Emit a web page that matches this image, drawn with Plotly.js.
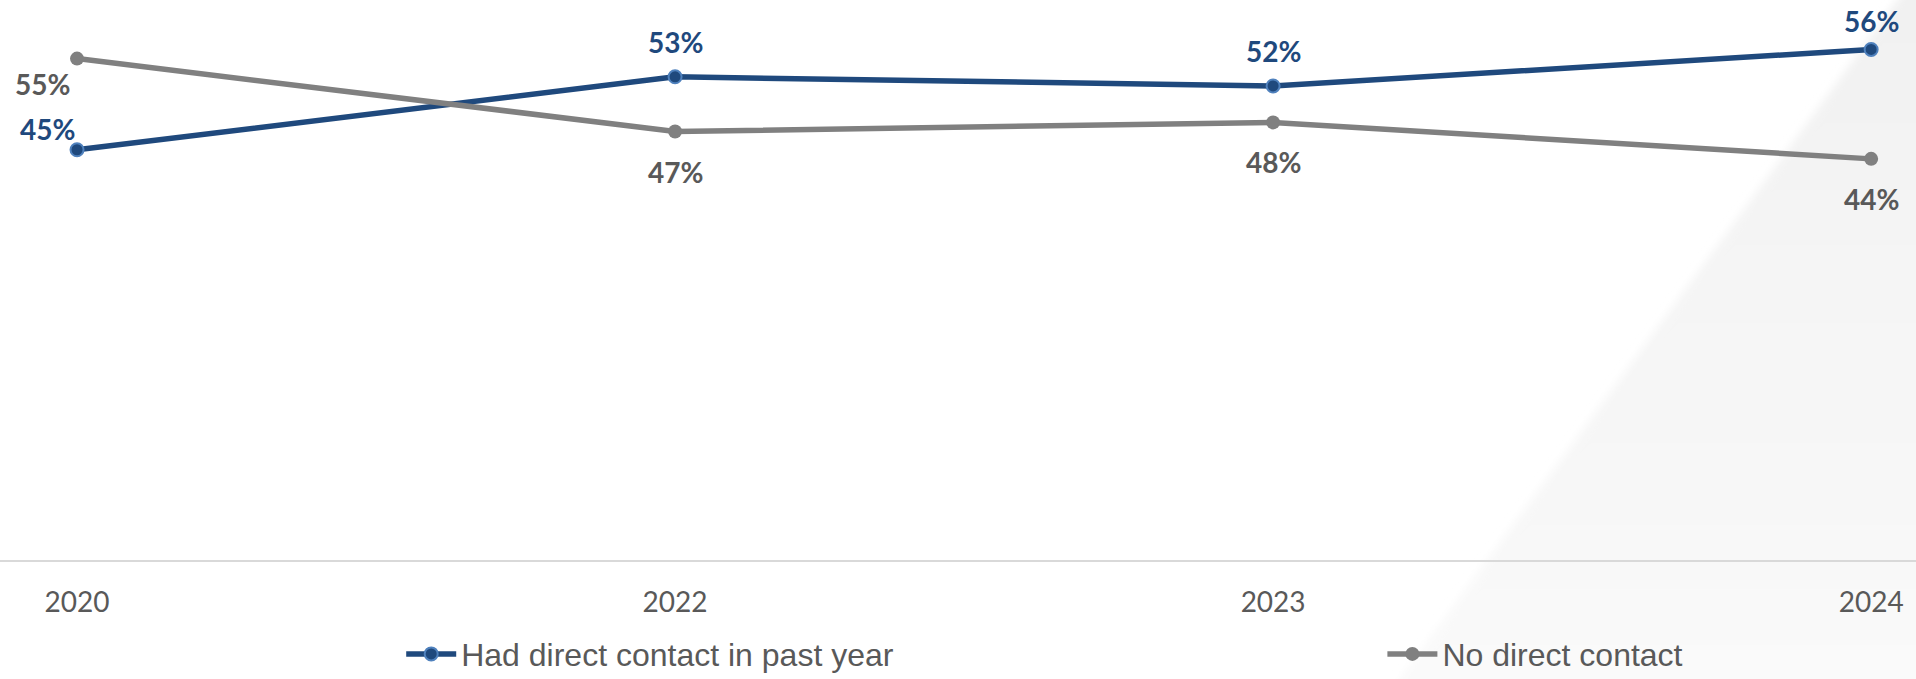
<!DOCTYPE html>
<html>
<head>
<meta charset="utf-8">
<script src="https://cdn.plot.ly/plotly-3.0.1.min.js"></script>
<style>html,body{margin:0;padding:0;background:#fff;}#chart{width:1916px;height:679px;}</style>
</head>
<body>
<div id="chart"></div>
<script>
const years = ["2020", "2022", "2023", "2024"];
const hadContact = [45, 53, 52, 56];
const noContact = [55, 47, 48, 44];
const seriesNames = ["Had direct contact in past year", "No direct contact"];

const blue = "#1F497D";
const blueEdge = "#4F81BD";
const grey = "#808080";
const greyText = "#595959";
const labelFont = "Lato";

const traces = [
  {
    x: years, y: hadContact, name: seriesNames[0], type: "scatter", mode: "lines+markers",
    line: {color: blue, width: 5.5},
    marker: {color: blue, size: 13, line: {color: blueEdge, width: 2}},
    cliponaxis: false, hoverinfo: "skip", legend: "legend"
  },
  {
    x: years, y: noContact, name: seriesNames[1], type: "scatter", mode: "lines+markers",
    line: {color: grey, width: 5.5},
    marker: {color: grey, size: 14},
    cliponaxis: false, hoverinfo: "skip", legend: "legend2"
  }
];

const annotations = [];
for (let i = 0; i < years.length; i++) {
  const first = i === 0;
  annotations.push({
    x: i, y: hadContact[i], xref: "x", yref: "y", text: "<b>" + hadContact[i] + "%</b>",
    showarrow: false, font: {family: labelFont, size: 28, color: blue},
    xshift: first ? -30 : 0, yshift: first ? 21 : (i === 3 ? 28 : 35)
  });
  annotations.push({
    x: i, y: noContact[i], xref: "x", yref: "y", text: "<b>" + noContact[i] + "%</b>",
    showarrow: false, font: {family: labelFont, size: 28, color: greyText},
    xshift: first ? -35 : 0, yshift: first ? -25 : -40
  });
}

const legendCommon = {
  orientation: "h", xanchor: "left", y: -0.172, yanchor: "middle",
  font: {family: "Liberation Sans", size: 32, color: greyText},
  bgcolor: "rgba(0,0,0,0)", borderwidth: 0, itemwidth: 50
};

const shadeSvg =
  '<svg xmlns="http://www.w3.org/2000/svg" width="1916" height="679" viewBox="0 0 1916 679">' +
  '<defs><linearGradient id="g" x1="0" y1="0" x2="0" y2="1">' +
  '<stop offset="0" stop-color="#f1f1f1"/><stop offset="1" stop-color="#fafafa"/></linearGradient>' +
  '<filter id="b" x="-0.1" y="-0.1" width="1.2" height="1.2"><feGaussianBlur stdDeviation="4"/></filter></defs>' +
  '<polygon points="1912,-20 1960,-20 1960,700 1385,700" fill="url(#g)" filter="url(#b)"/></svg>';

const layout = {
  width: 1916, height: 679,
  margin: {l: 0, r: 0, t: 13, b: 119, autoexpand: false},
  paper_bgcolor: "#ffffff", plot_bgcolor: "rgba(0,0,0,0)",
  showlegend: true,
  xaxis: {
    type: "category", range: [-0.1288, 3.075], fixedrange: true,
    showgrid: false, zeroline: false,
    showline: true, linecolor: "#D9D9D9", linewidth: 2,
    ticks: "outside", ticklen: 16, tickcolor: "rgba(0,0,0,0)",
    tickfont: {family: labelFont, size: 28, color: greyText}
  },
  yaxis: {
    range: [0, 60], visible: false, showgrid: false, zeroline: false, fixedrange: true
  },
  legend: Object.assign({}, legendCommon, {x: 0.2094}),
  legend2: Object.assign({}, legendCommon, {x: 0.7215}),
  annotations: annotations,
  images: [{
    source: "data:image/svg+xml;charset=utf-8," + encodeURIComponent(shadeSvg),
    xref: "paper", yref: "paper", x: 0, y: 560 / 547, xanchor: "left", yanchor: "top",
    sizex: 1, sizey: 679 / 547, sizing: "stretch", layer: "below"
  }]
};

Plotly.newPlot("chart", traces, layout, {staticPlot: true, displayModeBar: false});
</script>
</body>
</html>
